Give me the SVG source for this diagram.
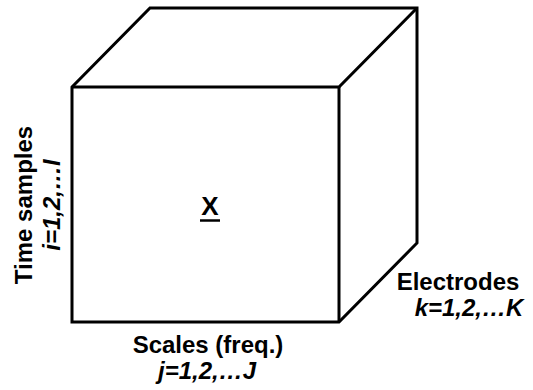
<svg xmlns="http://www.w3.org/2000/svg" width="533" height="390" viewBox="0 0 533 390">
<style>
.e{fill:none;stroke:#000;stroke-width:3;stroke-linejoin:miter}
.t{font-family:"Liberation Sans",Arial,sans-serif;font-size:24px;font-weight:bold;fill:#000;text-anchor:middle}
.i{font-style:italic}
</style>
<rect width="533" height="390" fill="#fff"/>
<g id="cube">
<polygon class="e" points="72,87 150,8 417,8 417,243 339,322 72,322"/>
<polyline class="e" points="72,87 339,87 417,8"/>
<line class="e" x1="339" y1="87" x2="339" y2="322"/>
</g>
<g id="x-label">
<text class="t" x="210" y="215" style="font-size:26px">X</text>
<line x1="200" y1="220.5" x2="220" y2="220.5" stroke="#000" stroke-width="2.5"/>
</g>
<g id="time-label">
<text class="t" transform="translate(32,205) rotate(-90)">Time samples</text>
<text class="t i" transform="translate(60,205) rotate(-90)">i=1,2,…I</text>
</g>
<g id="scales-label">
<text class="t" x="208" y="353">Scales (freq.)</text>
<text class="t i" x="207" y="379">j=1,2,…J</text>
</g>
<g id="electrodes-label">
<text class="t" x="458" y="290">Electrodes</text>
<text class="t i" x="469" y="316">k=1,2,…K</text>
</g>
</svg>
